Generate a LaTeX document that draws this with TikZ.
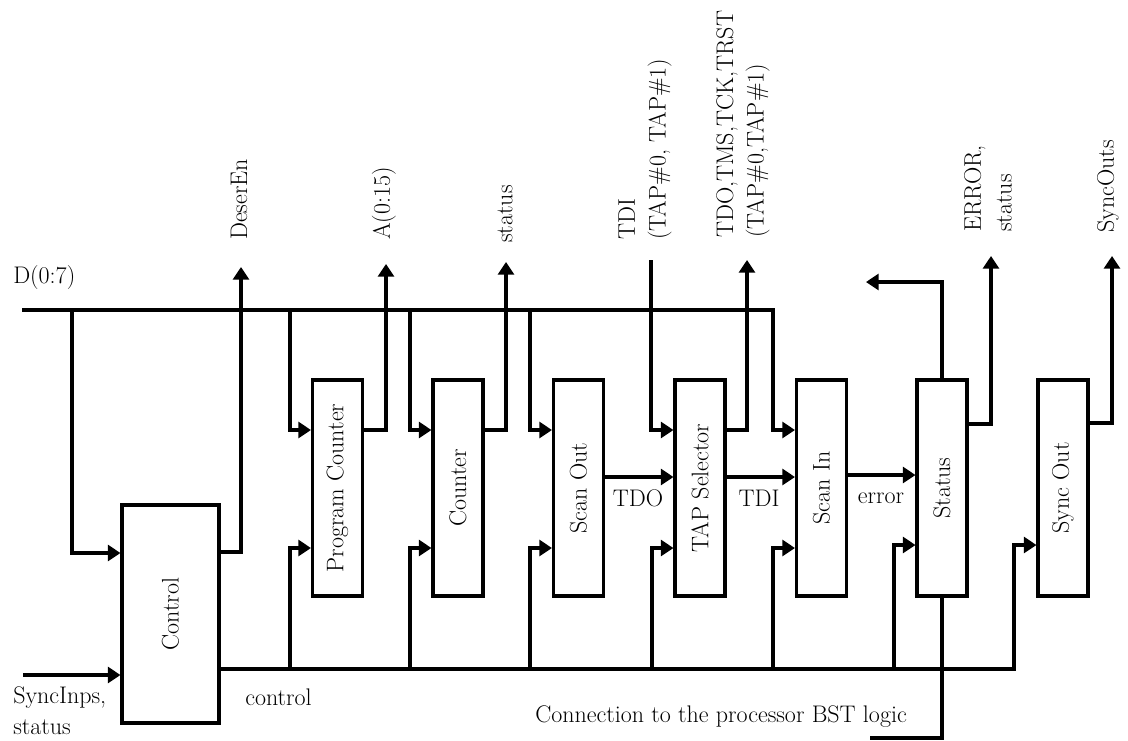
\documentclass[tikz,border=0pt]{standalone}
\usetikzlibrary{arrows.meta}
\begin{document}
\begin{tikzpicture}[x=0.75pt,y=-0.75pt,
  font=\fontsize{18}{23}\selectfont,
  ln/.style={line width=2.3pt},
  ar/.style={line width=2.3pt,-{Triangle[length=9.5pt,width=12pt]}},
  blk/.style={draw,line width=2.3pt,minimum width=37.5pt,minimum height=162pt,inner sep=0pt},
  lab/.style={inner sep=0pt},
  vlab/.style={inner sep=0pt,rotate=90,anchor=west,align=left}]
\useasboundingbox (0,0) rectangle (1128,740);

% blocks
\node[blk,minimum width=72.75pt,minimum height=163.5pt] (ctrl) at (170.5,614) {\rotatebox{90}{Control}};
\node[blk] (pc) at (337.5,488) {\rotatebox{90}{Program Counter}};
\node[blk] (cnt) at (458,488) {\rotatebox{90}{Counter}};
\node[blk] (so) at (578.5,488) {\rotatebox{90}{Scan Out}};
\node[blk] (tap) at (700,488) {\rotatebox{90}{TAP Selector}};
\node[blk] (si) at (821.5,488) {\rotatebox{90}{Scan In}};
\node[blk] (st) at (942,488) {\rotatebox{90}{Status}};
\node[blk] (sync) at (1063,488) {\rotatebox{90}{Sync Out}};

% free ends
\coordinate (busL) at (22,310);
\coordinate (busR) at (773,310);
\coordinate (sinp) at (23,675);
\coordinate (oDes) at (241,267);
\coordinate (oA) at (386,264);
\coordinate (oCnt) at (506,262);
\coordinate (tdiIn) at (651,260);
\coordinate (oTap) at (747,260);
\coordinate (oErr) at (991,256);
\coordinate (oSync) at (1112,256);
\coordinate (oSt) at (866,282);
\coordinate (bst) at (870,738);
\coordinate (cbusR) at (1014,669);

% D(0:7) bus
\draw[ar] (busL) -- (busR) |- (si.west |- 0,430);
\draw[ar] (72,310) |- (ctrl.west |- 0,553);
\draw[ar] (290,310) |- (pc.west |- 0,430);
\draw[ar] (410,310) |- (cnt.west |- 0,430);
\draw[ar] (530,310) |- (so.west |- 0,430);
\draw[ar] (tdiIn) |- (tap.west |- 0,430);

% SyncInps
\draw[ar] (sinp) -- (ctrl.west |- 0,675);

% control bus
\draw[ar] (ctrl.east |- 0,669) -- (cbusR) |- (sync.west |- 0,545);
\draw[ar] (290,669) |- (pc.west |- 0,548);
\draw[ar] (410,669) |- (cnt.west |- 0,548);
\draw[ar] (530,669) |- (so.west |- 0,548);
\draw[ar] (652,669) |- (tap.west |- 0,548);
\draw[ar] (773,669) |- (si.west |- 0,548);
\draw[ar] (894,669) |- (st.west |- 0,545);

% outputs
\draw[ar] (ctrl.east |- 0,552) -| (oDes);
\draw[ar] (pc.east |- 0,430) -| (oA);
\draw[ar] (cnt.east |- 0,430) -| (oCnt);
\draw[ar] (tap.east |- 0,430) -| (oTap);
\draw[ar] (st.east |- 0,424) -| (oErr);
\draw[ar] (sync.east |- 0,423) -| (oSync);
\draw[ar] (st.north) |- (oSt);
\draw[ln] (st.south) |- (bst);

% chain
\draw[ar] (so.east |- 0,477) -- (tap.west |- 0,477);
\draw[ar] (tap.east |- 0,477) -- (si.west |- 0,477);
\draw[ar] (si.east |- 0,475) -- (st.west |- 0,475);

% labels
\node[lab,anchor=west] (lD) at (13,278) {D(0:7)};
\node[lab,anchor=west,align=left] (lSI) at (13,711) {SyncInps,\\status};
\node[lab,anchor=west] (lctl) at (245,697) {control};
\node[lab] (lTDO) at (638,498) {TDO};
\node[lab] (lTDI) at (759,498) {TDI};
\node[lab] (lerr) at (881,498) {error};
\node[lab,anchor=west] (lbst) at (535,717) {Connection to the processor BST logic};

\node[vlab] (lDes) at (239,240) {DeserEn};
\node[vlab] (lA) at (384,240) {A(0:15)};
\node[vlab] (lst) at (505,243) {status};
\node[vlab] (ltdi) at (645,240) {TDI\\(TAP\#0, TAP\#1)};
\node[vlab] (ltdo) at (743,238) {TDO,TMS,TCK,TRST\\(TAP\#0,TAP\#1)};
\node[vlab] (lerrs) at (988,232) {ERROR,\\status};
\node[vlab] (lso) at (1108,233) {SyncOuts};
\end{tikzpicture}
\end{document}
